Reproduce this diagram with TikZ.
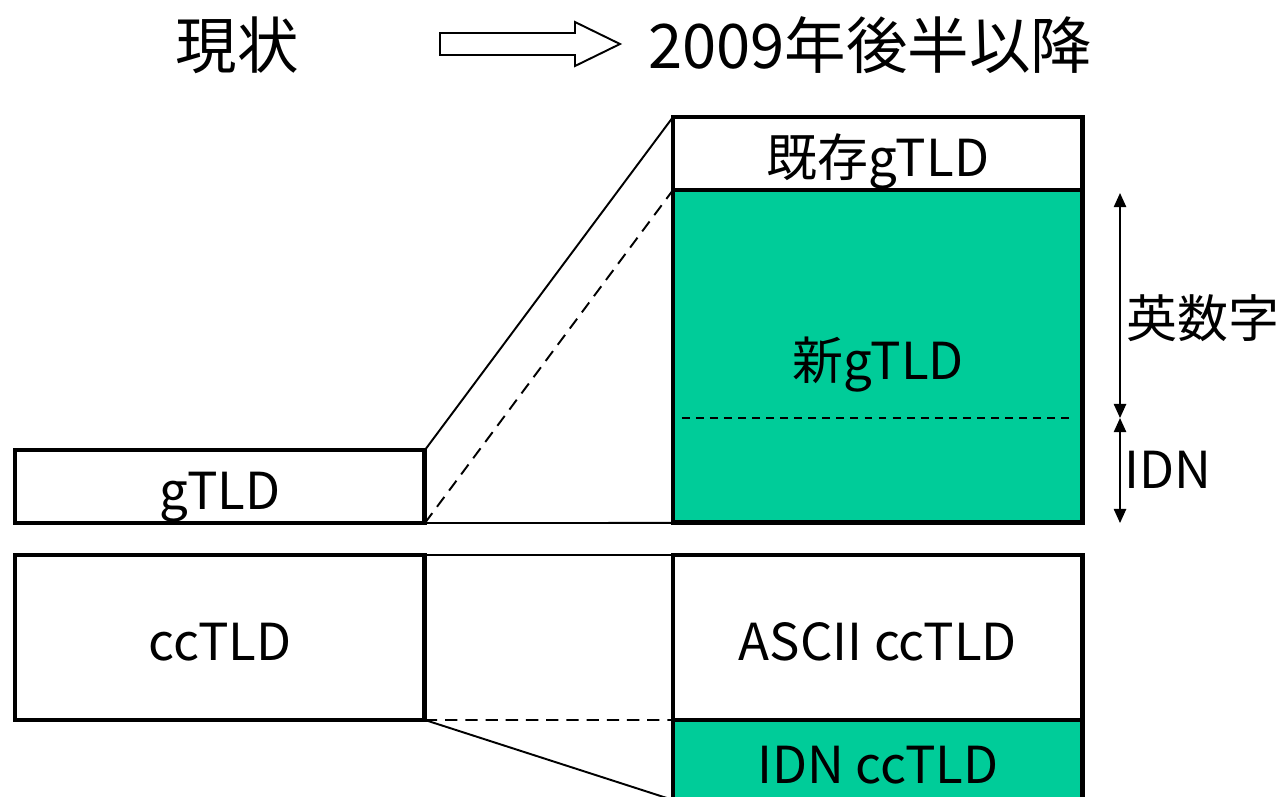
\documentclass[tikz,border=0pt]{standalone}
\usepackage{fontspec}
\setmainfont{Noto Sans CJK JP}
\usepackage{xcolor}
\usetikzlibrary{arrows.meta, positioning, calc}

\definecolor{newgreen}{RGB}{0,204,153}

\begin{document}
\begin{tikzpicture}[
  x=0.02cm, y=-0.02cm,
  tld/.style={rectangle, draw, line width=2.8pt, inner sep=0pt, outer sep=0pt, anchor=north west, minimum width=8.2cm, align=center, text height=1.1cm, text depth=0.18cm, font=\fontsize{29}{32}\selectfont},
  newtld/.style={tld, fill=newgreen},
  head/.style={font=\fontsize{35}{40}\selectfont},
  side/.style={anchor=west, font=\fontsize{29}{32}\selectfont},
  link/.style={line width=1.1pt},
  dlink/.style={link, dash pattern=on 7pt off 4.5pt},
  span/.style={{Triangle[length=8pt, width=7pt]}-{Triangle[length=8pt, width=7pt]}, line width=0.9pt},
]
  \useasboundingbox (0,0) rectangle (1283,796);

  % Headings
  \node[head] (now) at (237,45) {現状};
  \node[head] (later) at (870,45) {2009年後半以降};
  \draw[line width=1.1pt] (440,33) -- (575,33) -- (575,22) -- (620,44) -- (575,66) -- (575,55) -- (440,55) -- cycle;

  % Left column
  \node[tld, minimum height=1.46cm] (gtld) at (15,450) {gTLD};
  \node[tld, minimum height=3.3cm] (cctld) at (15,555) {ccTLD};

  % Right column
  \node[tld, minimum height=1.46cm] (old) at (673,117) {既存gTLD};
  \node[newtld, minimum height=6.66cm] (new) at (673,190) {新gTLD};
  \node[tld, minimum height=3.3cm] (ascii) at (673,555) {ASCII ccTLD};
  \node[newtld, minimum height=1.6cm] (idn) at (673,720) {IDN ccTLD};

  % Split between alphanumeric and IDN
  \coordinate (split) at (1120,418);
  \coordinate (top) at (1120,193);
  \coordinate (bot) at (1120,523);
  \draw[dlink, line width=0.9pt, dash pattern=on 4.5pt off 3.5pt] ([xshift=5pt]new.west |- split) -- ([xshift=-5pt]new.east |- split);

  % Connecting lines
  \draw[link] (gtld.north east) -- (old.north west);
  \draw[dlink] (gtld.south east) -- (new.north west);
  \draw[link] (gtld.south east) -- (new.south west);
  \draw[link] (cctld.north east) -- (ascii.north west);
  \draw[dlink] (cctld.south east) -- (idn.north west);
  \draw[link] (cctld.south east) -- (idn.south west);

  % Ranges on the right
  \draw[span] (top) -- (split);
  \draw[span] (split) -- (bot);
  \node[side] (alnum) at (1120,318) {英数字};
  \node[side] (idnlabel) at (1118,470) {IDN};
\end{tikzpicture}
\end{document}
